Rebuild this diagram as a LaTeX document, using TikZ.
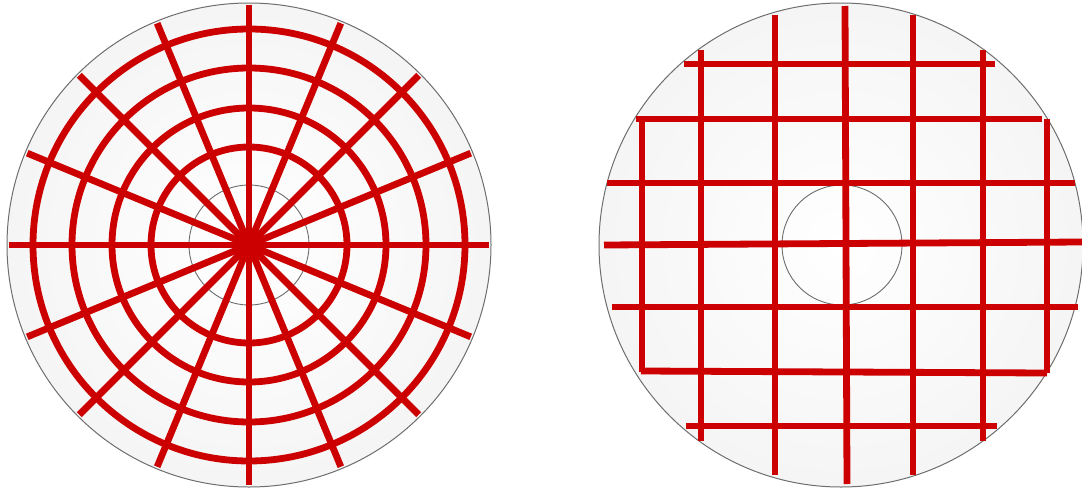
\documentclass[tikz,border=0pt]{standalone}
\definecolor{discred}{HTML}{CC0000}
\definecolor{rimgray}{HTML}{6E6E6E}
\begin{document}
\begin{tikzpicture}[x=1pt,y=-1pt,
  redline/.style={draw=discred, line width=6.8pt, line cap=butt},
  disc/.style={draw=rimgray, line width=1pt, shading=radial, inner color=white, outer color=black!4},
  hole/.style={draw=rimgray, line width=0.9pt}]
\useasboundingbox (0,0) rectangle (1082,490);
% ---------- left disc: polar grid ----------
\coordinate (L) at (249,245);
\path[disc] (L) circle (242pt);
\draw[hole] (L) circle (60pt);
\foreach \r in {98,137,177,216} \draw[redline] (L) circle (\r pt);
\foreach \a in {0,22.5,...,337.5} \draw[redline] (L) -- ++(\a:240pt);
% ---------- right disc: square grid ----------
\coordinate (R) at (841,245);
\path[disc] (R) circle (242pt);
\draw[hole] (842,245) circle (60pt);
% horizontal lines
\draw[redline] (684,64) -- (995,64);
\draw[redline] (636,119) -- (1042,119);
\draw[redline] (607,183) -- (1075,183);
\draw[redline] (604,245) -- (1082,242);
\draw[redline] (612,307) -- (1078,307);
\draw[redline] (641,371) -- (1047,373);
\draw[redline] (686,426) -- (997,426);
% vertical lines
\draw[redline] (642,119) -- (642,372);
\draw[redline] (701,50) -- (701,441);
\draw[redline] (775,15) -- (775,475);
\draw[redline] (845,6) -- (847,484);
\draw[redline] (913,15) -- (913,475);
\draw[redline] (983,50) -- (983,441);
\draw[redline] (1047,119) -- (1047,373);
\end{tikzpicture}
\end{document}
